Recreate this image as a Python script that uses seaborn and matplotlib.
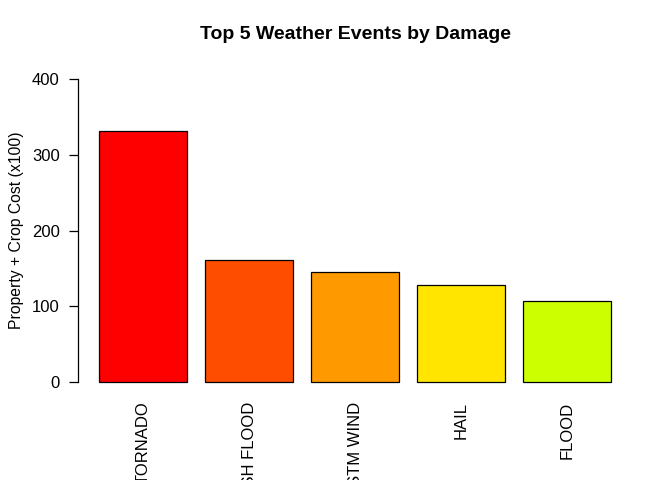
import matplotlib
matplotlib.use("Agg")
import matplotlib.pyplot as plt
import seaborn as sns
import pandas as pd

sns.set_style("white")
plt.rcParams['font.family'] = ['Liberation Sans', 'DejaVu Sans']
plt.rcParams['text.color'] = 'black'
plt.rcParams['axes.labelcolor'] = 'black'

# Top 5 event types and their combined damage (x100)
events = ['TORNADO', 'FLASH FLOOD', 'TSTM WIND', 'HAIL', 'FLOOD']
damage = [332, 161, 145, 128, 107]
bar_colors = ['#FF0000', '#FF4D00', '#FF9900', '#FFE500', '#CCFF00']

df = pd.DataFrame({'event': events, 'damage': damage})

fig = plt.figure(figsize=(6.72, 4.8), dpi=100)
ax = fig.add_axes([0.1168, 0.179, 0.823, 0.681])

sns.barplot(data=df, x='event', y='damage', hue='event', palette=bar_colors,
            order=events, width=1 / 1.2, saturation=1, edgecolor='black',
            linewidth=0.9, legend=False, ax=ax)

ax.set_xlim(-0.61, 4.61)
ax.set_ylim(-16, 416)
ax.set_yticks([0, 100, 200, 300, 400])
ax.set_title('Top 5 Weather Events by Damage', fontsize=14, fontweight='bold',
             pad=20, color='black')
ax.set_ylabel('Property + Crop Cost (x100)', fontsize=11.3, labelpad=6)
ax.set_xlabel('')

for s in ['top', 'right', 'bottom']:
    ax.spines[s].set_visible(False)
ax.spines['left'].set_bounds(0, 400)
ax.spines['left'].set_color('black')
ax.spines['left'].set_linewidth(0.9)

ax.tick_params(axis='y', left=True, length=6.5, width=0.9, pad=7, labelsize=12, colors='black')
ax.tick_params(axis='x', bottom=False, pad=2, labelsize=12, labelrotation=90, colors='black')
for lbl in ax.get_xticklabels():
    lbl.set_va('top')

fig.savefig('out.png', dpi=100)
